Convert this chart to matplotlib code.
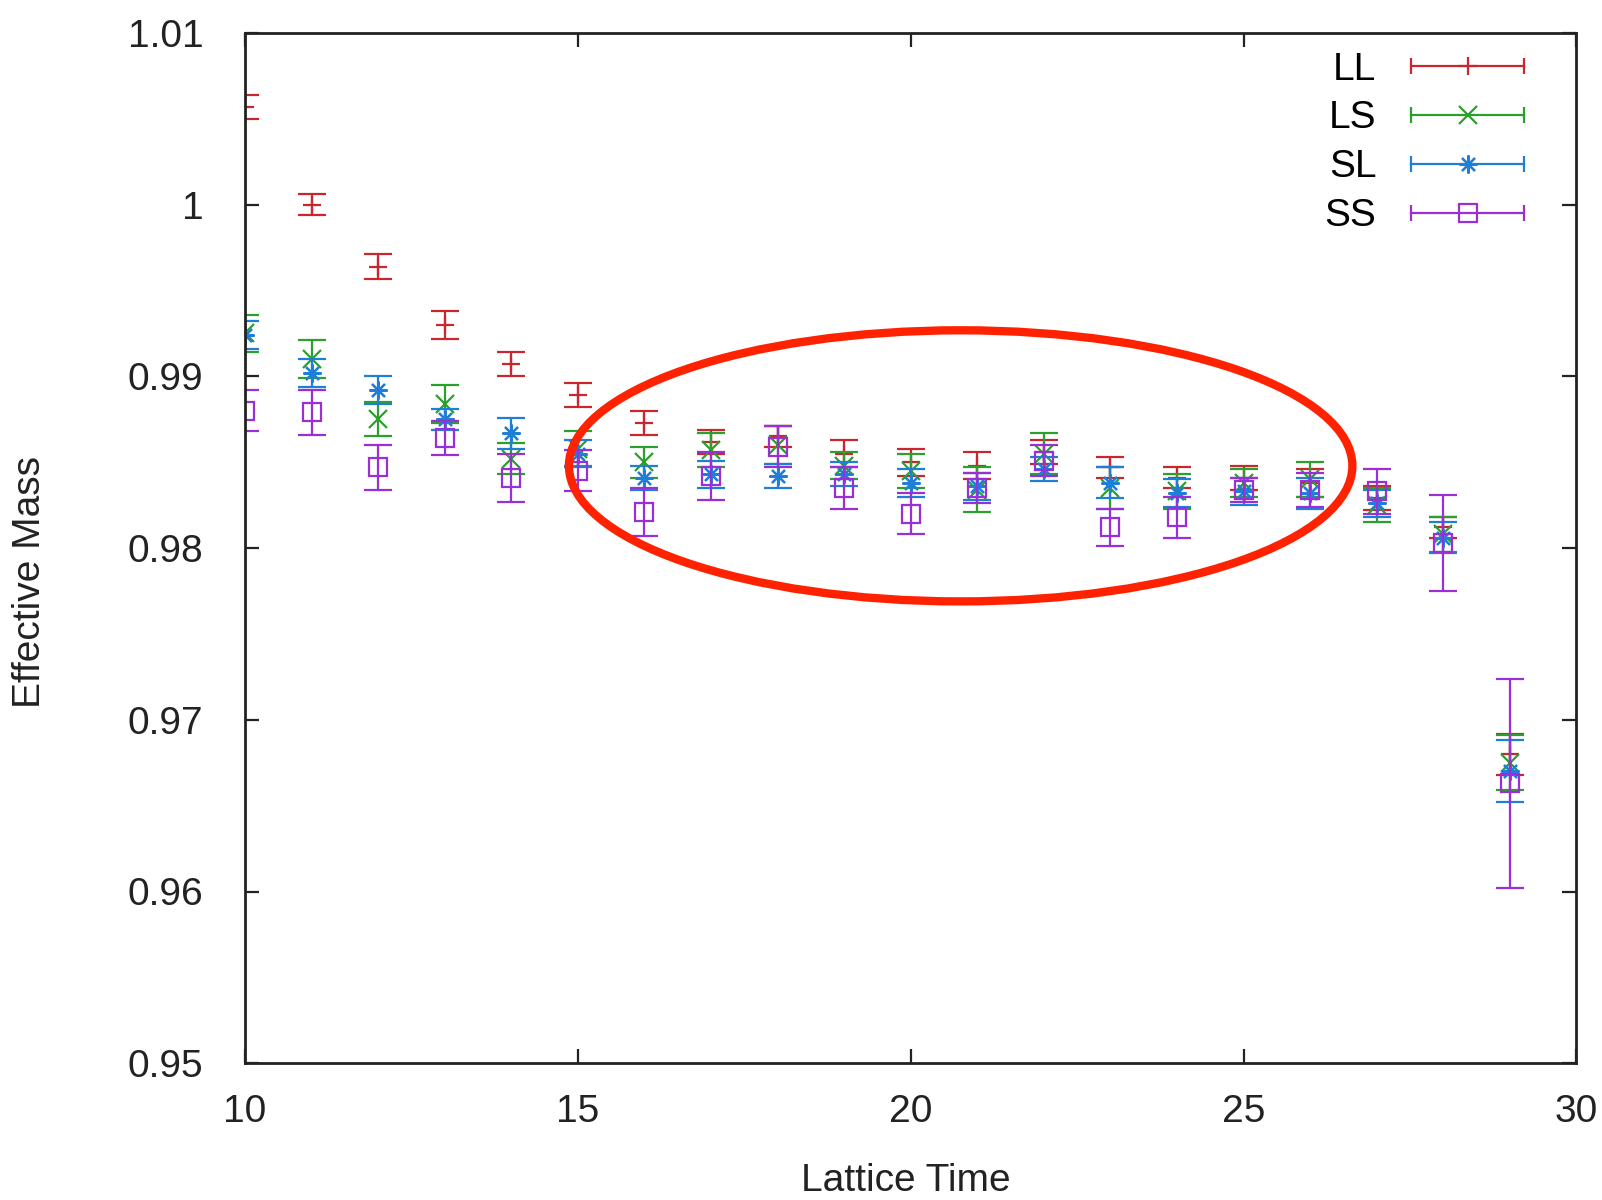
import numpy as np
import matplotlib
matplotlib.use("Agg")
import matplotlib.pyplot as plt
from matplotlib.lines import Line2D
from matplotlib.patches import Ellipse
from matplotlib.legend_handler import HandlerBase

plt.rcParams['font.family'] = ['Liberation Sans', 'DejaVu Sans']

# lattice time slices
t = np.arange(10, 30)

ll_val = [1.0057, 1.0000, 0.9964, 0.9930, 0.9907, 0.9889, 0.9873, 0.9862, 0.9865, 0.9855,
          0.9850, 0.9848, 0.9856, 0.9847, 0.9841, 0.9841, 0.9838, 0.9829, 0.9812, 0.9680]
ll_err = [0.0007, 0.0006, 0.0007, 0.0008, 0.0007, 0.0007, 0.0007, 0.0007, 0.0006, 0.0008,
          0.0008, 0.0008, 0.0007, 0.0006, 0.0006, 0.0007, 0.0008, 0.0007, 0.0006, 0.0012]

ls_val = [0.9925, 0.9910, 0.9875, 0.9884, 0.9852, 0.9858, 0.9850, 0.9857, 0.9860, 0.9848,
          0.9845, 0.9834, 0.9855, 0.9835, 0.9833, 0.9838, 0.9840, 0.9825, 0.9808, 0.9675]
ls_err = [0.0011, 0.0011, 0.0010, 0.0011, 0.0009, 0.0010, 0.0009, 0.0010, 0.0011, 0.0008,
          0.0010, 0.0013, 0.0012, 0.0012, 0.0010, 0.0008, 0.0010, 0.0010, 0.0010, 0.0016]

sl_val = [0.9924, 0.9902, 0.9892, 0.9875, 0.9867, 0.9855, 0.9841, 0.9843, 0.9842, 0.9843,
          0.9838, 0.9836, 0.9846, 0.9838, 0.9832, 0.9833, 0.9832, 0.9826, 0.9806, 0.9670]
sl_err = [0.0008, 0.0008, 0.0008, 0.0006, 0.0009, 0.0008, 0.0007, 0.0008, 0.0007, 0.0007,
          0.0008, 0.0008, 0.0007, 0.0009, 0.0008, 0.0008, 0.0009, 0.0008, 0.0009, 0.0018]

ss_val = [0.9880, 0.9879, 0.9847, 0.9864, 0.9841, 0.9845, 0.9821, 0.9842, 0.9859, 0.9835,
          0.9820, 0.9835, 0.9851, 0.9812, 0.9818, 0.9834, 0.9834, 0.9833, 0.9803, 0.9663]
ss_err = [0.0012, 0.0013, 0.0013, 0.0010, 0.0014, 0.0012, 0.0014, 0.0014, 0.0012, 0.0012,
          0.0012, 0.0009, 0.0009, 0.0011, 0.0012, 0.0007, 0.0010, 0.0013, 0.0028, 0.0061]

labels = ['LL', 'LS', 'SL', 'SS']
colors = ['#c8282d', '#2ca02c', '#1f7fd8', '#9a2fd8']
# gnuplot point types: plus, cross, asterisk (plus+cross), open box
markers = ['+', 'x', (8, 2, 0), 's']

yticks = [0.95, 0.96, 0.97, 0.98, 0.99, 1.00, 1.01]
ytick_labels = ['0.95', '0.96', '0.97', '0.98', '0.99', '1', '1.01']
xticks = [10, 15, 20, 25, 30]

# highlighted plateau region (data coords)
ell_center = (20.75, 0.98479)
ell_w, ell_h = 11.77, 0.01579


class ErrBarHandler(HandlerBase):
    # gnuplot-like key sample: horizontal bar with end caps and point in the middle
    def create_artists(self, legend, orig_handle, xdescent, ydescent,
                       width, height, fontsize, trans):
        c = orig_handle.get_color()
        m = orig_handle.get_marker()
        y = height / 2 - ydescent
        x0, x1 = -xdescent, width - xdescent
        line = Line2D([x0, x1], [y, y], color=c, lw=1.6)
        caps = Line2D([x0, x1], [y, y], ls='none', marker='|', ms=12, mew=1.6, color=c)
        pt = Line2D([(x0 + x1) / 2], [y], ls='none', marker=m, ms=13, mew=1.6,
                    color=c, mfc='none')
        arts = [line, caps, pt]
        for a in arts:
            a.set_transform(trans)
        return arts


fig = plt.figure(figsize=(16.02, 12), dpi=100)
ax = fig.add_axes([0.153, 0.114, 0.831, 0.8585])

series = [(ll_val, ll_err), (ls_val, ls_err), (sl_val, sl_err), (ss_val, ss_err)]
handles = []
for (v, e), lab, c, m in zip(series, labels, colors, markers):
    ax.errorbar(t, v, yerr=e, fmt='none', ecolor=c, elinewidth=1.6,
                capsize=10, capthick=1.6)
    ax.plot(t, v, ls='none', marker=m, ms=13, mew=1.6, color=c, mfc='none')
    handles.append(Line2D([], [], color=c, marker=m, label=lab))

ax.add_patch(Ellipse(ell_center, ell_w, ell_h, fill=False, ec='#ff2200', lw=6,
                     clip_on=False, zorder=5))

ax.set_xlim(10, 30)
ax.set_ylim(0.95, 1.01)
ax.set_xticks(xticks)
ax.set_yticks(yticks)
ax.set_yticklabels(ytick_labels)
ax.tick_params(direction='in', length=10, width=1.6, top=True, right=True,
               labelsize=28, colors='#222222')
ax.tick_params(axis='y', pad=30)
ax.tick_params(axis='x', pad=22)
for s in ax.spines.values():
    s.set_linewidth(2)
    s.set_color('#222222')

ax.set_xlabel('Lattice Time', fontsize=28, color='#222222')
ax.xaxis.set_label_coords(0.496, -0.097)
ax.set_ylabel('Effective Mass', fontsize=28, color='#222222')
ax.yaxis.set_label_coords(-0.148, 0.467)

leg = ax.legend(handles=handles, loc='upper right', bbox_to_anchor=(0.9724, 0.997),
                frameon=False, fontsize=28, markerfirst=False, handlelength=2.9,
                labelspacing=0.33, handletextpad=0.9, borderaxespad=0,
                handler_map={Line2D: ErrBarHandler()})

fig.savefig('out.png', dpi=100)
